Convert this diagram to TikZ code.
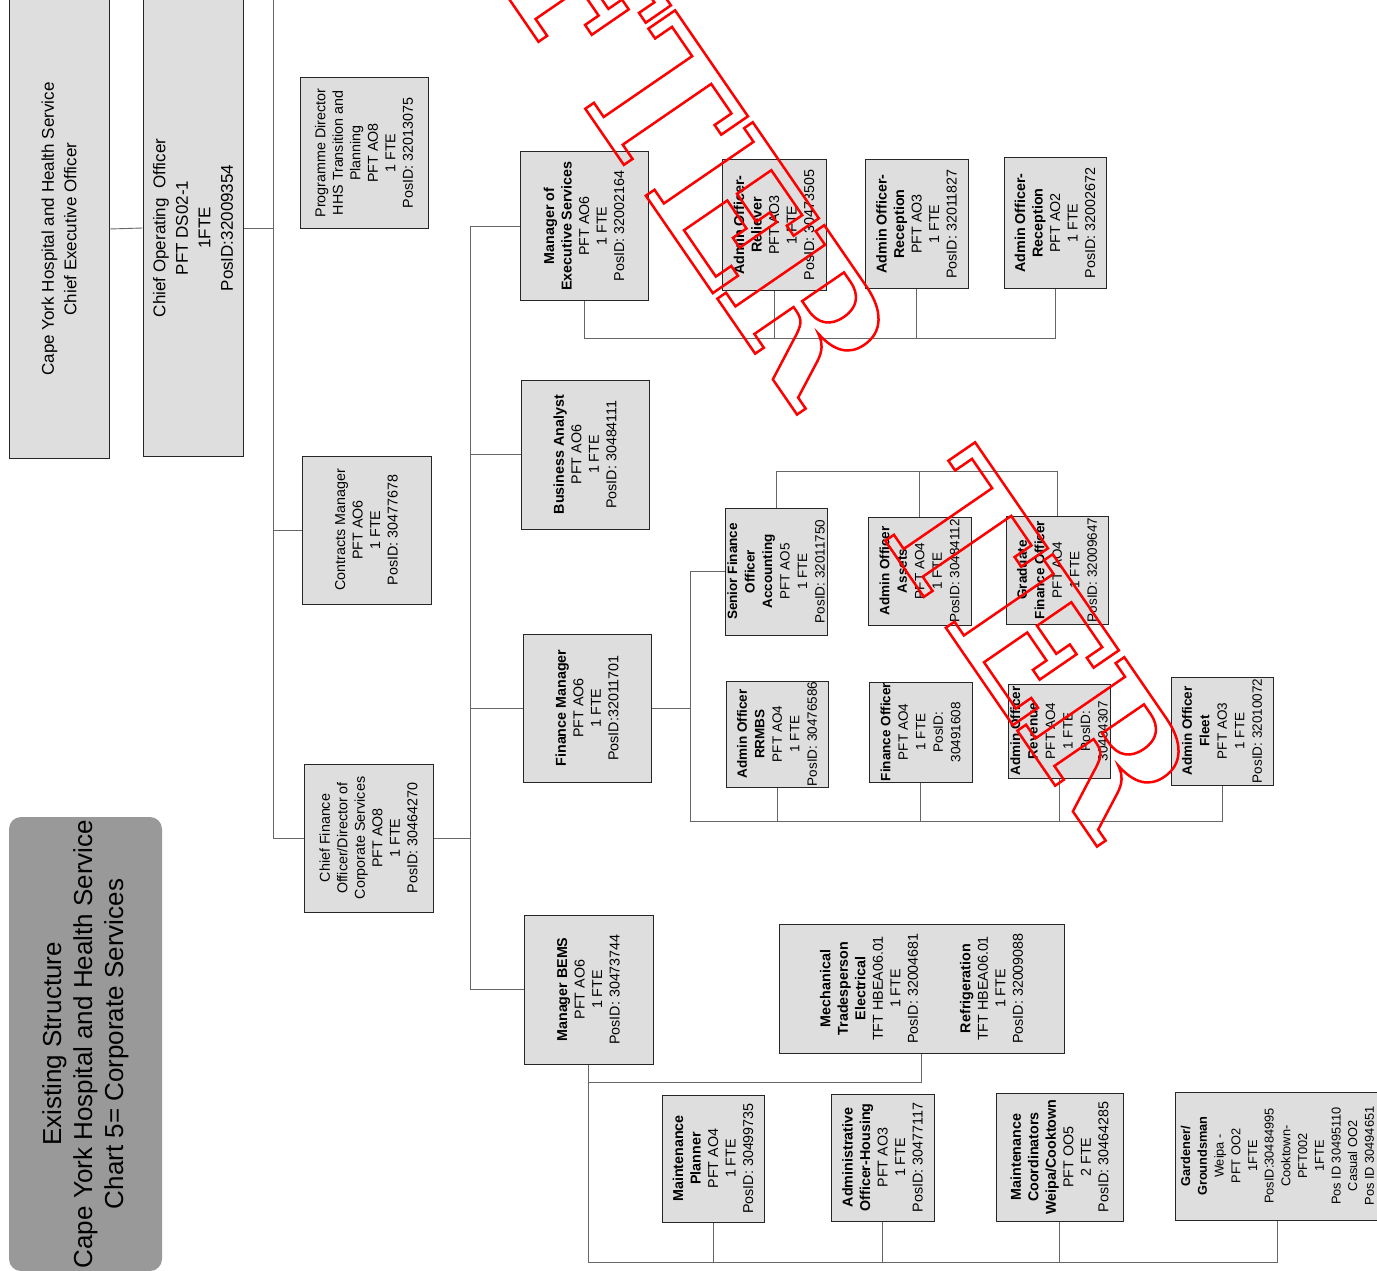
\documentclass[tikz,border=0pt]{standalone}
\usepackage{fontspec}
\setmainfont{Liberation Sans}
\newfontfamily\stampfont{DejaVu Serif}

% outlined letters for the red stamp
\newcommand{\hollow}[1]{{\color{red}\special{pdf:literal direct 1 Tr 2.5 w 1 0 0 RG}#1\special{pdf:literal direct 0 Tr}}}

\tikzset{
  post/.style={draw=black!85, line width=1pt, fill=black!13, rotate=90, inner sep=0pt,
    align=center, font=\fontsize{14.3}{17.5}\selectfont},
  smallpost/.style={post, font=\fontsize{13.5}{17.5}\selectfont},
  toppost/.style={post, font=\fontsize{17}{22.5}\selectfont},
  link/.style={draw=black!60, line width=0.9pt},
  stamp/.style={rotate=-55.5, inner sep=0pt, font=\stampfont\bfseries\fontsize{178}{178}\selectfont},
}

\begin{document}
\begin{tikzpicture}[x=1pt, y=-1pt]
  \useasboundingbox (0,0) rectangle (1377,1271);
  \fill[white] (0,0) rectangle (1377,1271);

  % heading
  \node[rotate=90, rounded corners=12pt, fill=black!40, inner sep=0pt, minimum width=454, minimum height=153,
    align=center, font=\fontsize{26}{31}\selectfont] (title) at (85.5,1044)
    {Existing Structure\\Cape York Hospital and Health Service\\Chart 5= Corporate Services};

  % executive level
  \node[toppost, minimum width=458, minimum height=100] (ceo) at (59,229)
    {Cape York Hospital and Health Service\\Chief Executive Officer};
  \node[toppost, minimum width=456, minimum height=100] (coo) at (193,228)
    {Chief Operating~~Officer\\PFT DS02-1\\1FTE\\PosID:32009354};

  % reports to COO
  \node[post, minimum width=150, minimum height=128] (prog) at (364,153)
    {Programme Director\\HHS Transition and\\Planning\\PFT AO8\\1 FTE\\PosID: 32013075};
  \node[post, minimum width=148, minimum height=129] (contr) at (366.5,530)
    {Contracts Manager\\PFT AO6\\1 FTE\\PosID: 30477678};
  \node[post, minimum width=148, minimum height=129] (cfo) at (368.5,838)
    {Chief Finance\\Officer/Director of\\Corporate Services\\PFT AO8\\1 FTE\\PosID: 30464270};

  % reports to CFO
  \node[post, minimum width=148, minimum height=128] (mes) at (584,226)
    {\textbf{Manager of}\\\textbf{Executive Services}\\PFT AO6\\1 FTE\\PosID: 32002164};
  \node[post, minimum width=149, minimum height=128] (ba) at (585,454.5)
    {\textbf{Business Analyst}\\PFT AO6\\1 FTE\\PosID: 30484111};
  \node[post, minimum width=148, minimum height=128] (fm) at (587,708)
    {\textbf{Finance Manager}\\PFT AO6\\1 FTE\\PosID:32011701};
  \node[post, minimum width=149, minimum height=129] (bems) at (588.5,989.5)
    {\textbf{Manager BEMS}\\PFT AO6\\1 FTE\\PosID: 30473744};

  % executive services team
  \node[post, minimum width=130, minimum height=104] (rel) at (774,225)
    {\textbf{Admin Officer-}\\\textbf{Reliever}\\PFT AO3\\1 FTE\\PosID: 30473505};
  \node[post, minimum width=128, minimum height=103] (rcpa) at (916.5,224)
    {\textbf{Admin Officer-}\\\textbf{Reception}\\PFT AO3\\1 FTE\\PosID: 32011827};
  \node[post, minimum width=130, minimum height=102] (rcpb) at (1055,223)
    {\textbf{Admin Officer-}\\\textbf{Reception}\\PFT AO2\\1 FTE\\PosID: 32002672};

  % finance team
  \node[smallpost, minimum width=127, minimum height=102] (sfo) at (776,571.5)
    {\textbf{Senior Finance}\\\textbf{Officer}\\\textbf{Accounting}\\PFT AO5\\1 FTE\\PosID: 32011750};
  \node[smallpost, minimum width=108, minimum height=103] (assets) at (919.5,571)
    {\textbf{Admin Officer}\\\textbf{Assets}\\PFT AO4\\1 FTE\\PosID: 30484112};
  \node[smallpost, minimum width=108, minimum height=102] (grad) at (1057,570)
    {\textbf{Graduate}\\\textbf{Finance Officer}\\PFT AO4\\1 FTE\\PosID: 32009647};
  \node[smallpost, minimum width=106, minimum height=102] (rrmbs) at (777,734)
    {\textbf{Admin Officer}\\\textbf{RRMBS}\\PFT AO4\\1 FTE\\PosID: 30476586};
  \node[smallpost, minimum width=100, minimum height=103] (fo) at (920.5,732)
    {\textbf{Finance Officer}\\PFT AO4\\1 FTE\\PosID:\\30491608};
  \node[smallpost, minimum width=94, minimum height=102] (rev) at (1059,731)
    {\textbf{Admin Officer}\\\textbf{Revenue}\\PFT AO4\\1 FTE\\PosID:\\30494307};
  \node[smallpost, minimum width=108, minimum height=102] (fleet) at (1222,731)
    {\textbf{Admin Officer}\\\textbf{Fleet}\\PFT AO3\\1 FTE\\PosID: 32010072};

  % BEMS team
  \node[post, minimum width=129, minimum height=285] (mech) at (921.5,988.5)
    {\textbf{Mechanical}\\\textbf{Tradesperson}\\\textbf{Electrical}\\TFT HBEA06.01\\1 FTE\\PosID: 32004681\\{}\\{}\\
     \textbf{Refrigeration}\\TFT HBEA06.01\\1 FTE\\PosID: 32009088};
  \node[post, minimum width=127, minimum height=102] (plan) at (713,1158.5)
    {\textbf{Maintenance}\\\textbf{Planner}\\PFT AO4\\1 FTE\\PosID: 30499735};
  \node[post, minimum width=127, minimum height=103] (hous) at (882.5,1157.5)
    {\textbf{Administrative}\\\textbf{Officer-Housing}\\PFT AO3\\1 FTE\\PosID: 30477117};
  \node[post, minimum width=128, minimum height=127] (coord) at (1059.5,1157)
    {\textbf{Maintenance}\\\textbf{Coordinators}\\\textbf{Weipa/Cooktown}\\PFT OO5\\2 FTE\\PosID: 30464285};
  \node[post, minimum width=128, minimum height=205, font=\fontsize{12.8}{16.7}\selectfont] (gard) at (1277.5,1156)
    {\textbf{Gardener/}\\\textbf{Groundsman}\\Weipa -\\PFT OO2\\1FTE\\PosID:30484995\\Cooktown-\\PFT002\\1FTE\\
     Pos ID 30495110\\Casual OO2\\Pos ID 30494651};

  % lines: CEO, COO bus
  \coordinate (cbtop) at (273,0);
  \coordinate (cbbot) at (273,838);
  \draw[link] (ceo.south) -- (coo.north);
  \draw[link] (cbtop) -- (cbbot);
  \draw[link] (coo.south) -- (coo.south -| cbtop);
  \draw[link] (contr.north) -- (contr.north -| cbtop);
  \draw[link] (cfo.north) -- (cfo.north -| cbtop);

  % CFO bus
  \coordinate (fbtop) at (470,226);
  \coordinate (fbbot) at (470,989.5);
  \draw[link] (cfo.south) -- (cfo.south -| fbtop);
  \draw[link] (fbtop) -- (fbbot);
  \foreach \n in {mes,ba,fm,bems}
    \draw[link] (\n.north) -- (\n.north -| fbtop);

  % executive services
  \coordinate (esbar) at (0,338);
  \draw[link] (mes.west) -- (mes.west |- esbar) -| (rcpb.west);
  \foreach \n in {rel,rcpa}
    \draw[link] (\n.west) -- (\n.west |- esbar);

  % finance
  \coordinate (fmv) at (690,0);
  \coordinate (fbar) at (0,821);
  \coordinate (sbar) at (0,471);
  \draw[link] (fm.south) -- (fm.south -| fmv);
  \draw[link] (sfo.north) -| (fmv |- fbar) -| (fleet.west);
  \foreach \n in {rrmbs,fo,rev}
    \draw[link] (\n.west) -- (\n.west |- fbar);
  \draw[link] (sfo.east) |- (sbar -| grad.east) -- (grad.east);
  \draw[link] (assets.east) -- (assets.east |- sbar);

  % BEMS
  \coordinate (mbar) at (0,1262);
  \coordinate (tbar) at (0,1082);
  \draw[link] (bems.west) |- (mbar -| gard.west) -- (gard.west);
  \draw[link] (mech.west) |- (tbar -| bems.west);
  \foreach \n in {plan,hous,coord}
    \draw[link] (\n.west) -- (\n.west |- mbar);

  % red stamp over the chart
  \foreach \ch/\k [count=\i] in {F/-1,T/0,E/1,R/2,T/4,E/5,R/6}
    \node[stamp] (stamp\i) at ({658+75*\k},{100+108*\k}) {\hollow{\ch}};
\end{tikzpicture}
\end{document}
